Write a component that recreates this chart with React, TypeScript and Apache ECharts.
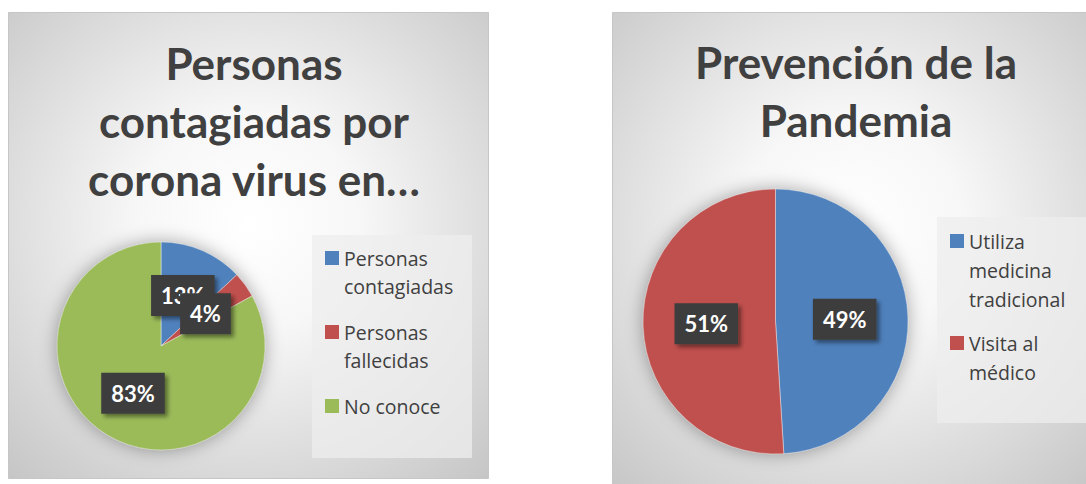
import React, { useEffect, useRef } from 'react';
import * as echarts from 'echarts';

const leftTitle = 'Personas\ncontagiadas por\ncorona virus en…';
const leftCategories = ['Personas contagiadas', 'Personas fallecidas', 'No conoce'];
const leftLegendLabels = ['Personas\ncontagiadas', 'Personas\nfallecidas', 'No conoce'];
const leftValues = [13, 4, 83];
const leftColors = ['#4F81BD', '#C0504D', '#9BBB59'];

const rightTitle = 'Prevención de la\nPandemia';
const rightCategories = ['Utiliza medicina tradicional', 'Visita al médico'];
const rightLegendLabels = ['Utiliza\nmedicina\ntradicional', 'Visita al\nmédico'];
const rightValues = [49, 51];
const rightColors = ['#4F81BD', '#C0504D'];

const FONT = 'Lato, "Open Sans", sans-serif';
const LEGEND_FONT = '"Open Sans", "Noto Sans", sans-serif';
const TEXT = '#404040';

function padLines(label: string, n: number) {
  const lines = label.split('\n');
  while (lines.length < n) lines.push('');
  return lines.join('\n');
}

function legendIcon(lh: number, n: number, size = 14) {
  const h = lh * n;
  const t = (lh - size) / 2;
  return `path://M0,${t}H${size}V${t + size}H0Z M0,0h0.01v0.01h-0.01Z M0,${h}h0.01v-0.01h-0.01Z`;
}

function panelFill() {
  return new echarts.graphic.RadialGradient(0.5, 0.45, 0.78, [
    { offset: 0, color: '#ffffff' },
    { offset: 0.3, color: '#f7f7f7' },
    { offset: 1, color: '#c2c2c2' },
  ]);
}

const labelStyle = {
  show: true,
  position: 'inside',
  formatter: '{c}%',
  color: '#ffffff',
  fontFamily: FONT,
  fontWeight: 'bold',
  fontSize: 22,
  lineHeight: 22,
  backgroundColor: '#3d3d3d',
  padding: [10, 10, 9, 10],
  shadowColor: 'rgba(0,0,0,0.45)',
  shadowBlur: 4,
  shadowOffsetX: 3,
  shadowOffsetY: 3,
};

function makePie(cats: string[], vals: number[], colors: string[], center: number[], radius: number) {
  return {
    type: 'pie',
    center,
    radius,
    startAngle: 90,
    clockwise: true,
    avoidLabelOverlap: false,
    minShowLabelAngle: 0,
    z: 3,
    data: cats.map((name, i) => ({ name, value: vals[i], itemStyle: { color: colors[i] } })),
    itemStyle: { borderColor: 'rgba(255,255,255,0.7)', borderWidth: 0.6 },
    label: labelStyle,
    labelLine: { show: false },
    labelLayout: { hideOverlap: false },
    emphasis: { disabled: true },
  };
}

function makeShadow(vals: number[], center: number[], radius: number) {
  return {
    type: 'pie',
    silent: true,
    center,
    radius,
    z: 2,
    data: [{ name: '', value: vals.reduce((a, b) => a + b, 0) }],
    itemStyle: { color: '#9a9a9a', shadowBlur: 18, shadowColor: 'rgba(0,0,0,0.35)' },
    label: { show: false },
    labelLine: { show: false },
    emphasis: { disabled: true },
  };
}

export default function App() {
  const ref = useRef<HTMLDivElement>(null);
  useEffect(() => {
    if (!ref.current) return;
    const chart = echarts.init(ref.current, undefined, { renderer: 'svg' });
    const leftCenter = [161, 346];
    const rightCenter = [775.5, 321.5];
    chart.setOption({
      animation: false,
      title: [
        {
          text: leftTitle,
          left: 254,
          top: 34,
          padding: 0,
          textAlign: 'center',
          textStyle: { fontFamily: FONT, fontWeight: 'bold', fontSize: 44, lineHeight: 58, color: TEXT },
        },
        {
          text: rightTitle,
          left: 856,
          top: 33,
          padding: 0,
          textAlign: 'center',
          textStyle: { fontFamily: FONT, fontWeight: 'bold', fontSize: 44, lineHeight: 58, color: TEXT },
        },
      ],
      legend: [
        {
          orient: 'vertical',
          left: 325,
          top: 244,
          padding: 0,
          itemWidth: 14,
          itemHeight: 56,
          itemGap: 18,
          icon: legendIcon(28, 2),
          selectedMode: false,
          data: leftCategories,
          formatter: (name: string) => padLines(leftLegendLabels[leftCategories.indexOf(name)], 2),
          textStyle: { fontFamily: LEGEND_FONT, fontSize: 19.5, lineHeight: 28, color: TEXT },
          itemStyle: { borderWidth: 0 },
        },
        {
          orient: 'vertical',
          left: 950,
          top: 226.5,
          padding: 0,
          itemWidth: 14,
          itemHeight: 87,
          itemGap: 15,
          icon: legendIcon(29, 3),
          selectedMode: false,
          data: rightCategories,
          formatter: (name: string) => padLines(rightLegendLabels[rightCategories.indexOf(name)], 3),
          textStyle: { fontFamily: LEGEND_FONT, fontSize: 19.5, lineHeight: 29, color: TEXT },
          itemStyle: { borderWidth: 0 },
        },
      ],
      graphic: [
        {
          type: 'rect',
          silent: true,
          z: 0,
          shape: { x: 8.5, y: 12.5, width: 480, height: 466 },
          style: { fill: panelFill(), stroke: '#c6c6c6', lineWidth: 1 },
        },
        {
          type: 'rect',
          silent: true,
          z: 0,
          shape: { x: 612.5, y: 12.5, width: 480, height: 480 },
          style: { fill: panelFill(), stroke: '#c6c6c6', lineWidth: 1 },
        },
        {
          type: 'rect',
          silent: true,
          z: 1,
          shape: { x: 312, y: 235, width: 160, height: 223 },
          style: { fill: 'rgba(238,238,238,0.75)' },
        },
        {
          type: 'rect',
          silent: true,
          z: 1,
          shape: { x: 937, y: 217, width: 149, height: 206 },
          style: { fill: 'rgba(238,238,238,0.75)' },
        },
      ],
      series: [
        makeShadow(leftValues, leftCenter, 104),
        makePie(leftCategories, leftValues, leftColors, leftCenter, 104),
        makeShadow(rightValues, rightCenter, 132.5),
        makePie(rightCategories, rightValues, rightColors, rightCenter, 132.5),
      ],
    });
    return () => chart.dispose();
  }, []);
  return (
    <div
      ref={ref}
      style={{ position: 'absolute', left: 0, top: 0, width: 1086, height: 484, background: '#ffffff' }}
    />
  );
}
